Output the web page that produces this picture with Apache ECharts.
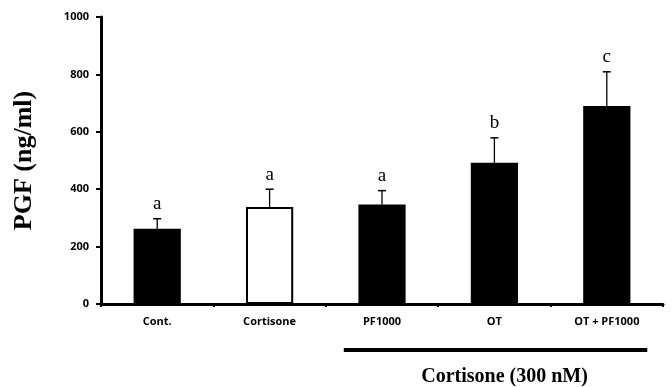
<!DOCTYPE html>
<html><head><meta charset="utf-8">
<script src="https://cdn.jsdelivr.net/npm/echarts@6/dist/echarts.min.js"></script>
<style>html,body{margin:0;padding:0;background:#fff}#c{width:672px;height:387px}</style>
</head><body><div id="c"></div>
<script>
const categories = ['Cont.', 'Cortisone', 'PF1000', 'OT', 'OT + PF1000'];
const means = [262, 338, 347, 492, 690];
const errors = [35, 62, 48, 87, 119];
const letters = ['a', 'a', 'a', 'b', 'c'];
const fills = ['#000', '#fff', '#000', '#000', '#000'];
const yTicks = { min: 0, max: 1000, interval: 200 };
const groupLabel = 'Cortisone (300 nM)';

const chart = echarts.init(document.getElementById('c'));
const sans = 'Open Sans';
const serif = 'Liberation Serif';
chart.setOption({
  animation: false,
  grid: { left: 101, right: 9, top: 17, bottom: 83 },
  xAxis: {
    type: 'category', data: categories,
    axisLine: { lineStyle: { color: '#000', width: 3 } },
    axisTick: { show: true, length: 3, lineStyle: { color: '#000', width: 2 } },
    axisLabel: { color: '#000', fontFamily: sans, fontWeight: 'bold', fontSize: 11, margin: 12 }
  },
  yAxis: {
    type: 'value', min: yTicks.min, max: yTicks.max, interval: yTicks.interval,
    name: 'PGF (ng/ml)', nameLocation: 'middle', nameGap: 64, nameRotate: 90,
    nameTextStyle: { fontFamily: serif, fontWeight: 'bold', fontSize: 26, color: '#000' },
    splitLine: { show: false },
    axisLine: { show: true, lineStyle: { color: '#000', width: 3 } },
    axisTick: { show: true, length: 5, lineStyle: { color: '#000', width: 2 } },
    axisLabel: { color: '#000', fontFamily: sans, fontWeight: 'bold', fontSize: 11, margin: 12, formatter: v => String(v) }
  },
  series: [
    {
      type: 'bar', barWidth: '42%',
      data: means.map((v, i) => ({ value: v, itemStyle: { color: fills[i], borderColor: '#000', borderWidth: 2 } }))
    },
    {
      type: 'custom', z: 3,
      data: means.map((v, i) => [i, v, errors[i]]),
      renderItem: function (params, api) {
        const i = api.value(0);
        const base = api.coord([i, api.value(1)]);
        const top = api.coord([i, api.value(1) + api.value(2)]);
        const half = 4;
        return {
          type: 'group',
          children: [
            { type: 'line', shape: { x1: base[0], y1: base[1], x2: top[0], y2: top[1] }, style: { stroke: '#000', lineWidth: 1.3 } },
            { type: 'line', shape: { x1: top[0] - half, y1: top[1], x2: top[0] + half, y2: top[1] }, style: { stroke: '#000', lineWidth: 1.5 } },
            { type: 'text', style: { text: letters[params.dataIndex], x: top[0], y: top[1] - 5, align: 'center', verticalAlign: 'bottom', font: '19px "Liberation Serif"', fill: '#000' } }
          ]
        };
      }
    }
  ]
});

const band = chart.convertToPixel({ xAxisIndex: 0 }, 1) - chart.convertToPixel({ xAxisIndex: 0 }, 0);
const x1 = chart.convertToPixel({ xAxisIndex: 0 }, 2) - 0.34 * band;
const x2 = chart.convertToPixel({ xAxisIndex: 0 }, 4) + 0.36 * band;
const yBase = chart.convertToPixel({ yAxisIndex: 0 }, 0);
chart.setOption({
  graphic: [
    { type: 'line', shape: { x1: x1, y1: yBase + 46, x2: x2, y2: yBase + 46 }, style: { stroke: '#000', lineWidth: 4 } },
    { type: 'text', x: (x1 + x2) / 2 + 9, y: yBase + 73, style: { text: groupLabel, align: 'center', verticalAlign: 'middle', font: 'bold 20px "Liberation Serif"', fill: '#000' } }
  ]
});
</script></body></html>
